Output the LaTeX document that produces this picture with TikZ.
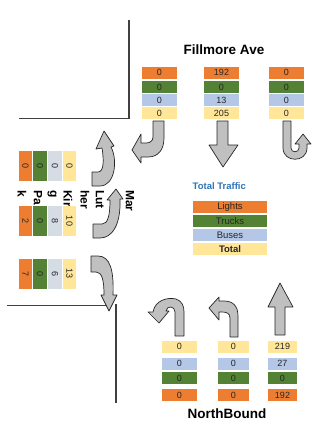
\documentclass[tikz,border=0pt]{standalone}
\usepackage{fontspec}
\setmainfont{Liberation Sans}
\usetikzlibrary{positioning}
\definecolor{lightC}{HTML}{ED7D31}
\definecolor{truckC}{HTML}{548235}
\definecolor{busC}{HTML}{B4C7E7}
\definecolor{busgC}{HTML}{D6DCE4}
\definecolor{totC}{HTML}{FFE699}
\definecolor{arrC}{HTML}{C0C0C0}
\definecolor{lineC}{HTML}{404040}
\definecolor{ttlC}{HTML}{2E75B6}
\tikzset{
  cnt/.style={minimum width=35pt,minimum height=12pt,inner sep=0pt,
              font=\fontsize{9}{10}\selectfont,text=black!85},
  cntv/.style={cnt,rotate=-90,minimum width=30pt,minimum height=13.5pt},
  leg/.style={cnt,minimum width=74pt,font=\fontsize{9.5}{11}\selectfont},
  turn/.style={fill=arrC,draw=black!85,line width=0.7pt,line join=round},
  road/.style={draw=lineC,line width=1.1pt},
  street/.style={font=\bfseries\fontsize{13.5}{15}\selectfont},
}
\begin{document}
\begin{tikzpicture}[x=1pt,y=-1pt]
\useasboundingbox (0,0) rectangle (328,424);
% Road corners
\draw[road] (129,20) -- (129,118.5) -- (19,118.5);
\draw[road] (7,305.5) -- (110,305.5);
\draw[road] (116,304) -- (116,403);
% Street names
\node[street] (fillmore) at (224,50) {Fillmore Ave};
\node[street] (north) at (227,414) {NorthBound};
\foreach \x/\t in {130/Mar,100/Lut,85/her,68/Kir,52/g,38/Pa,22/k}
  \node[rotate=-90,anchor=west,inner sep=0pt,font=\bfseries\fontsize{12}{14}\selectfont]
    (mlk-\t) at (\x,190) {\t};
% Southbound counts
\foreach \n/\x/\a/\b/\c/\d in {sbr/159.5/0/0/0/0, sbt/221.5/192/0/13/205, sbu/286.5/0/0/0/0} {
  \node[cnt,fill=lightC] (\n-l) at (\x,72.5) {\a};
  \node[cnt,fill=truckC] (\n-t) at (\x,87) {\b};
  \node[cnt,fill=busC] (\n-b) at (\x,100) {\c};
  \node[cnt,fill=totC] (\n-s) at (\x,113) {\d};
}
% Northbound counts
\foreach \n/\x/\w/\a/\b/\c/\d in {nbu/179.5/35/0/0/0/0, nbl/233.5/31/0/0/0/0, nbt/282.5/29/192/0/27/219} {
  \node[cnt,minimum width=\w pt,fill=totC] (\n-s) at (\x,346.5) {\d};
  \node[cnt,minimum width=\w pt,fill=busC] (\n-b) at (\x,363.5) {\c};
  \node[cnt,minimum width=\w pt,fill=truckC] (\n-t) at (\x,378) {\b};
  \node[cnt,minimum width=\w pt,fill=lightC] (\n-l) at (\x,395) {\a};
}
% Eastbound counts
\foreach \n/\y/\a/\b/\c/\d in {ebl/166/0/0/0/0, ebt/221/2/0/8/10, ebr/273.5/7/0/6/13} {
  \node[cntv,fill=lightC] (\n-l) at (25.5,\y) {\a};
  \node[cntv,fill=truckC] (\n-t) at (40,\y) {\b};
  \node[cntv,fill=busgC] (\n-b) at (55,\y) {\c};
  \node[cntv,fill=totC] (\n-s) at (69.5,\y) {\d};
}
% Legend
\node[anchor=west,inner sep=0pt,text=ttlC,font=\bfseries\fontsize{9.5}{11}\selectfont]
  (ttl) at (192.5,186) {Total Traffic};
\node[leg,fill=lightC] (lg-l) at (230,207) {Lights};
\node[leg,fill=truckC,below=1.5pt of lg-l] (lg-t) {Trucks};
\node[leg,fill=busC,below=1.5pt of lg-t] (lg-b) {Buses};
\node[leg,fill=totC,below=1.5pt of lg-b,font=\bfseries\fontsize{9.5}{11}\selectfont] (lg-s) {Total};
% Southbound arrows
\draw[turn] (153,121) -- (153,137) .. controls (153,141) and (150,143) .. (146,143)
  -- (141,143) -- (141,134) -- (132,150) -- (141,163) -- (141,157) -- (148,157)
  .. controls (158,157) and (164,150) .. (164,138) -- (164,121) -- cycle;
\draw[turn] (217,121) -- (217,145) -- (209,145) -- (223,167) -- (238,145)
  -- (228,145) -- (228,121) -- cycle;
\draw[turn] (283,121) -- (283,148) .. controls (283,163) and (307,163) .. (307,148)
  -- (307,144) -- (311,144) -- (303,134) -- (295,144) -- (299,144) -- (299,148)
  .. controls (299,153) and (291,153) .. (291,148) -- (291,121) -- cycle;
% Eastbound arrows
\draw[turn] (92,172) -- (98,172) .. controls (104,172) and (104,160) .. (102,148)
  -- (96,149) -- (104,131) -- (114,146) -- (111,147)
  .. controls (118,160) and (115,186) .. (100,186) -- (92,186) -- cycle;
\draw[turn] (93,224) -- (102,224) .. controls (108,224) and (110,215) .. (110,200)
  -- (107,200) -- (116,189) -- (123,199) -- (120,199)
  .. controls (121,225) and (112,238) .. (100,238) -- (93,238) -- cycle;
\draw[turn] (91,256) -- (98,256) .. controls (110,256) and (114,270) .. (113,295)
  -- (117,295) -- (109,311) -- (101,295) -- (104,295)
  .. controls (104,280) and (102,272) .. (96,272) -- (91,272) -- cycle;
% Northbound arrows
\draw[turn] (175,336) -- (175,312) .. controls (175,306) and (167,305) .. (166,311)
  -- (169,311) -- (159,323) -- (148,312) -- (153,312)
  .. controls (155,300) and (168,297) .. (176,299)
  .. controls (182,301) and (184,306) .. (184,312) -- (184,336) -- cycle;
\draw[turn] (230,337) -- (230,318) .. controls (230,313) and (226,312) .. (222,312)
  -- (219,312) -- (219,320) -- (209,308) -- (219,297) -- (219,301) -- (224,301)
  .. controls (233,301) and (238,306) .. (238,316) -- (238,337) -- cycle;
\draw[turn] (275,335) -- (275,307) -- (268,307) -- (280,283) -- (293,307)
  -- (285,307) -- (285,335) -- cycle;
\end{tikzpicture}
\end{document}
